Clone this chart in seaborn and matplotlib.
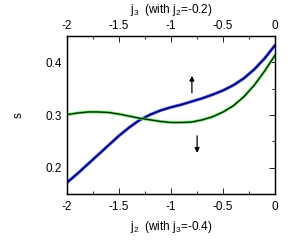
import numpy as np
import pandas as pd
import matplotlib
matplotlib.use('Agg')
import matplotlib.pyplot as plt
from matplotlib.ticker import MultipleLocator, FormatStrFormatter
import seaborn as sns

sns.set_style('white')
plt.rcParams['font.family'] = ['Liberation Sans', 'DejaVu Sans']
plt.rcParams['mathtext.fontset'] = 'custom'
plt.rcParams['mathtext.rm'] = 'Liberation Sans'
plt.rcParams['mathtext.it'] = 'Liberation Sans'
plt.rcParams['text.color'] = 'black'
plt.rcParams['axes.labelcolor'] = 'black'
plt.rcParams['xtick.color'] = 'black'
plt.rcParams['ytick.color'] = 'black'

# values
j = [-2.0, -1.9, -1.8, -1.7, -1.6, -1.5, -1.4, -1.3, -1.2, -1.1, -1.0,
     -0.9, -0.8, -0.7, -0.6, -0.5, -0.4, -0.3, -0.2, -0.1, 0.0]
s_j2 = [0.172, 0.189, 0.207, 0.225, 0.243, 0.261, 0.277, 0.291, 0.301, 0.309, 0.315,
        0.320, 0.326, 0.332, 0.339, 0.347, 0.357, 0.370, 0.387, 0.408, 0.433]
s_j3 = [0.301, 0.304, 0.306, 0.306, 0.305, 0.302, 0.298, 0.294, 0.291, 0.288, 0.286,
        0.286, 0.287, 0.291, 0.297, 0.306, 0.318, 0.335, 0.357, 0.384, 0.414]

df = pd.DataFrame({'j': j, 's_j2': s_j2, 's_j3': s_j3})

fig = plt.figure(figsize=(2.93, 2.46), dpi=100)
ax = fig.add_axes([0.229, 0.211, 0.710, 0.642])
ax2 = ax.twiny()

# j2 curve (bottom axis) - blue
sns.lineplot(data=df, x='j', y='s_j2', ax=ax, color='#4050e8', lw=2.2, sort=False)
sns.lineplot(data=df, x='j', y='s_j2', ax=ax, color='#00008b', lw=1.1, sort=False)
# j3 curve (top axis) - green outline, black centre
sns.lineplot(data=df, x='j', y='s_j3', ax=ax2, color='#33ee33', lw=2.0, sort=False)
sns.lineplot(data=df, x='j', y='s_j3', ax=ax2, color='black', lw=0.8, sort=False)

for a in (ax, ax2):
    a.set_xlim(-2, 0)
    a.xaxis.set_major_locator(MultipleLocator(0.5))
    a.xaxis.set_minor_locator(MultipleLocator(0.25))
    a.xaxis.set_major_formatter(FormatStrFormatter('%g'))
    a.tick_params(which='both', direction='in', labelsize=8.5, width=0.6, color='black')
    a.tick_params(which='major', length=4)
    a.tick_params(which='minor', length=2)
    for sp in a.spines.values():
        sp.set_visible(True)
        sp.set_color('black')
        sp.set_linewidth(0.9)

ax.set_ylim(0.15, 0.45)
ax2.set_ylim(0.15, 0.45)
ax.yaxis.set_major_locator(MultipleLocator(0.1))
ax.yaxis.set_minor_locator(MultipleLocator(0.05))
ax.yaxis.set_major_formatter(FormatStrFormatter('%g'))
ax.tick_params(axis='y', which='both', right=True)
ax.tick_params(axis='x', which='both', top=False, pad=5)
ax2.tick_params(axis='x', which='both', bottom=False, pad=3)

ax.set_xlabel(r'j$_2$  (with j$_3$=-0.4)', fontsize=8.5, labelpad=4)
ax2.set_xlabel(r'j$_3$  (with j$_2$=-0.2)', fontsize=8.5, labelpad=5)
ax.set_ylabel('s', fontsize=8.5, labelpad=15)
ax2.set_ylabel('')

ax.annotate('', xy=(-0.80, 0.380), xytext=(-0.80, 0.337),
            arrowprops=dict(arrowstyle='-|>', color='black', lw=0.9, mutation_scale=7))
ax.annotate('', xy=(-0.75, 0.223), xytext=(-0.75, 0.266),
            arrowprops=dict(arrowstyle='-|>', color='black', lw=0.9, mutation_scale=7))

fig.savefig('out.png', dpi=100)
